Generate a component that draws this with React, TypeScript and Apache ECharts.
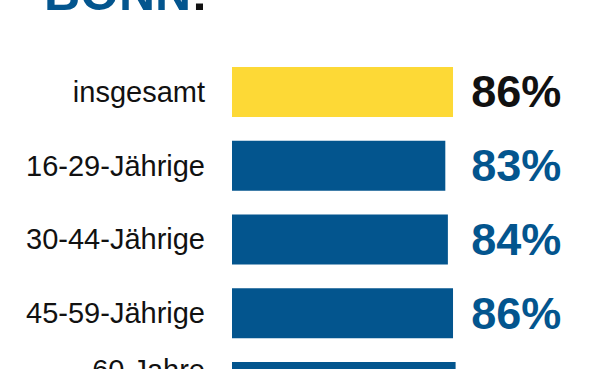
import React, { useEffect, useRef } from "react";
import * as echarts from "echarts";

const categories = ["insgesamt", "16-29-Jährige", "30-44-Jährige", "45-59-Jährige", "60 Jahre\nund älter"];
const values = [86, 83, 84, 86, 87];
const valueLabels = ["86%", "83%", "84%", "86%", "87%"];
const titleMain = "BONN";
const titleEnd = "!";

const BLUE = "#03558E";
const YELLOW = "#FDD936";

export default function App() {
  const ref = useRef<HTMLDivElement>(null);
  useEffect(() => {
    if (!ref.current) return;
    const chart = echarts.init(ref.current, undefined, { renderer: "svg" });
    chart.setOption({
      animation: false,
      backgroundColor: "#ffffff",
      graphic: [
        {
          type: "text",
          x: 44,
          y: -7,
          style: {
            text: "{a|" + titleMain + "}{b|" + titleEnd + "}",
            verticalAlign: "middle",
            rich: {
              a: { fontFamily: "Liberation Sans", fontWeight: "bold", fontSize: 50, fill: BLUE },
              b: { fontFamily: "Liberation Sans", fontWeight: "bold", fontSize: 50, fill: "#111111" },
            },
          },
        },
      ],
      grid: {
        left: 232,
        top: 55.1,
        width: 231.3,
        height: 368.75,
        containLabel: false,
        outerBoundsMode: "none",
      },
      xAxis: {
        type: "value",
        min: 0,
        max: 90,
        show: false,
      },
      yAxis: [
        {
          type: "category",
          data: categories,
          inverse: true,
          axisLine: { show: false },
          axisTick: { show: false },
          axisLabel: {
            margin: 27,
            fontFamily: "Liberation Sans",
            fontSize: 29,
            lineHeight: 33,
            color: "#111111",
          },
        },
        {
          type: "category",
          data: valueLabels,
          inverse: true,
          position: "right",
          axisLine: { show: false },
          axisTick: { show: false },
          axisLabel: {
            margin: 8,
            fontFamily: "Liberation Sans",
            fontWeight: "bold",
            fontSize: 45,
            color: (_v: string, i: number) => (i === 0 ? "#111111" : BLUE),
          },
        },
      ],
      series: [
        {
          type: "bar",
          yAxisIndex: 0,
          barWidth: 50,
          data: values.map((v, i) => ({ value: v, itemStyle: { color: i === 0 ? YELLOW : BLUE } })),
          silent: true,
        },
      ],
    });
    return () => chart.dispose();
  }, []);
  return (
    <div
      ref={ref}
      style={{ position: "absolute", left: 0, top: 0, width: 591, height: 369, background: "#fff" }}
    />
  );
}
